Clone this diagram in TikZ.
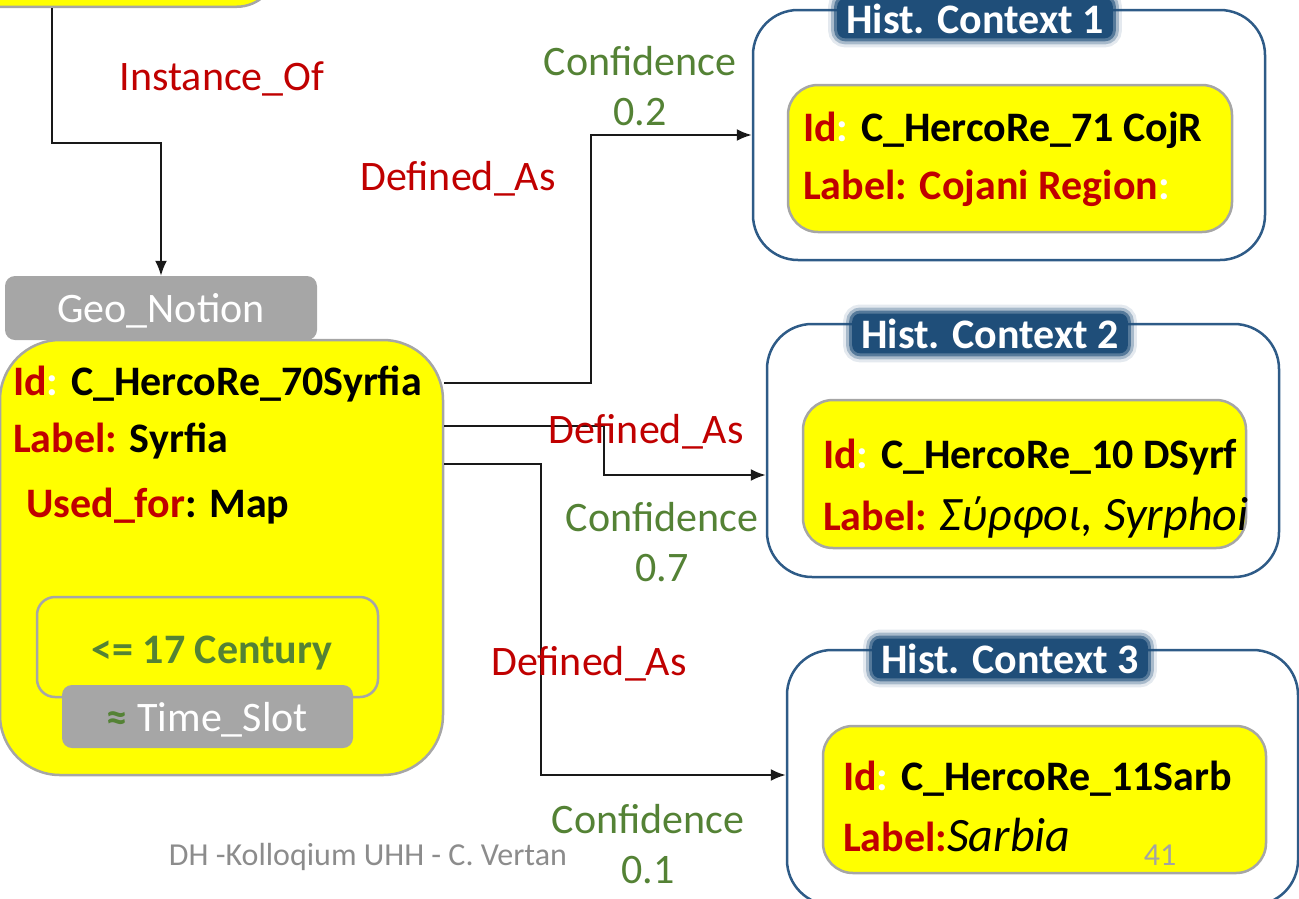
\documentclass[tikz,border=0pt]{standalone}
\usepackage{fontspec}
\setmainfont{Carlito}
\usetikzlibrary{arrows.meta}

\definecolor{hcred}{HTML}{C00000}
\definecolor{hcgreen}{HTML}{548235}
\definecolor{hcyellow}{HTML}{FFFF00}
\definecolor{hcgray}{HTML}{A6A6A6}
\definecolor{ctxblue}{HTML}{2E5B87}
\definecolor{titleblue}{HTML}{1F4E79}
\definecolor{footgray}{HTML}{8C8C8C}

\newcommand\hcsize{\fontsize{42}{50}\selectfont}
\newcommand\hcital{\fontsize{48}{50}\selectfont\mdseries\itshape}

\tikzset{
  yelbox/.style={draw=hcgray, line width=2.5pt, fill=hcyellow, inner sep=0pt},
  graytag/.style={fill=hcgray, rounded corners=10pt, text=white, inner sep=0pt, text depth=0pt, font=\hcsize},
  ctxbox/.style={draw=ctxblue, line width=2.5pt, rounded corners=45pt, inner sep=0pt},
  ctxtitle/.style={fill=titleblue, text=white, font=\hcsize\bfseries, rounded corners=8pt,
    inner xsep=9pt, inner ysep=5pt,
    preaction={draw=titleblue, draw opacity=0.12, line width=18pt},
    preaction={draw=titleblue, draw opacity=0.3, line width=12pt},
    preaction={draw=titleblue, draw opacity=0.6, line width=6pt}},
  fieldline/.style={anchor=base west, inner sep=0pt, font=\hcsize\bfseries},
  rel/.style={anchor=base, inner sep=0pt, text=hcred, font=\hcsize},
  conf/.style={align=center, inner sep=0pt, text=hcgreen, font=\hcsize},
  conn/.style={->, line width=2pt, draw=black!90}
}

\begin{document}
\begin{tikzpicture}[x=1pt, y=-1pt, >={Latex[length=15pt,width=12pt]}]

% Fix the frame and cut what runs past it
\useasboundingbox (0,0) rectangle (1299,898);
\clip (0,0) rectangle (1299,898);

% Class box running off the top
\node[yelbox, rounded corners=40pt, minimum width=420pt, minimum height=200pt, anchor=south east] (cls) at (278,8) {};

% Concept box with its fields
\node[yelbox, rounded corners=60pt, minimum width=443pt, minimum height=435pt] (main) at (221.5,557.5) {};
\node[graytag, minimum width=312pt, minimum height=64pt] (geo) at (161,308) {Geo\_Notion};
\node[fieldline] (id0) at (13,395) {\textcolor{hcred}{Id}\textcolor{white}{:} C\_HercoRe\_70Syrfia};
\node[fieldline] (lab0) at (13,452) {\textcolor{hcred}{Label:} Syrfia};
\node[fieldline] (use0) at (26,517) {\textcolor{hcred}{Used\_for}: Map};

% Time slot inside the concept
\node[yelbox, rounded corners=18pt, minimum width=341pt, minimum height=100pt] (slot) at (207.5,647) {};
\node[fieldline, anchor=base, text=hcgreen] (cent) at (212,663) {<= 17 Century};
\node[graytag, minimum width=291pt, minimum height=63pt] (tslot) at (207.5,716.5) {\textcolor{hcgreen}{\bfseries ≈} Time\_Slot};

% Historical context 1
\node[ctxbox, minimum width=512pt, minimum height=250pt] (ctx1) at (1009,135) {};
\node[ctxtitle, anchor=base] (tit1) at (975,33) {Hist. Context 1};
\node[yelbox, rounded corners=30pt, minimum width=444pt, minimum height=147pt] (in1) at (1010,158.5) {};
\node[fieldline] (id1) at (803,141) {\textcolor{hcred}{Id}\textcolor{white}{:} C\_HercoRe\_71 CojR};
\node[fieldline] (lab1) at (803,199) {\textcolor{hcred}{Label: Cojani Region}\textcolor{white}{:}};

% Historical context 2
\node[ctxbox, minimum width=512pt, minimum height=253pt] (ctx2) at (1023,450.5) {};
\node[ctxtitle, anchor=base] (tit2) at (990,348) {Hist. Context 2};
\node[yelbox, rounded corners=30pt, minimum width=443pt, minimum height=148pt] (in2) at (1024.5,474) {};
\node[fieldline] (id2) at (823,468) {\textcolor{hcred}{Id}\textcolor{white}{:} C\_HercoRe\_10 DSyrf};
\node[fieldline] (lab2) at (823,530) {\textcolor{hcred}{Label:} {\hcital Σύρφοι, Syrphoi}};

% Historical context 3
\node[ctxbox, minimum width=511pt, minimum height=255pt] (ctx3) at (1042.5,777.5) {};
\node[ctxtitle, anchor=base] (tit3) at (1010,673) {Hist. Context 3};
\node[yelbox, rounded corners=30pt, minimum width=443pt, minimum height=147pt] (in3) at (1044.5,799.5) {};
\node[fieldline] (id3) at (843,790) {\textcolor{hcred}{Id}\textcolor{white}{:} C\_HercoRe\_11Sarb};
\node[fieldline] (lab3) at (843,851) {\textcolor{hcred}{Label:}{\hcital Sarbia}};

% Connectors
\draw[conn] (cls.south -| 52,0) -- (52,143) -| (geo.north);
\draw[conn] (main.east |- 0,383) -- (591,383) |- (ctx1.west);
\draw[conn] (main.east |- 0,426) -- (604,426) |- (ctx2.west |- 0,475);
\draw[conn] (main.east |- 0,464) -- (541,464) |- (ctx3.west |- 0,775);

% Relation names and confidences
\node[rel] (inst) at (222,90) {Instance\_Of};
\node[rel] (def1) at (458,190) {Defined\_As};
\node[rel] (def2) at (646,443) {Defined\_As};
\node[rel] (def3) at (589,675) {Defined\_As};
\node[conf] (conf1) at (640,86) {Confidence\\0.2};
\node[conf] (conf2) at (662,542) {Confidence\\0.7};
\node[conf] (conf3) at (648,844) {Confidence\\0.1};

% Slide footer
\node[anchor=base, text=footgray, font=\fontsize{32}{38}\selectfont] (foot) at (368,865) {DH -Kolloqium UHH - C. Vertan};
\node[anchor=base, text=footgray!80, font=\fontsize{32}{38}\selectfont] (page) at (1160,865) {41};

\end{tikzpicture}
\end{document}
